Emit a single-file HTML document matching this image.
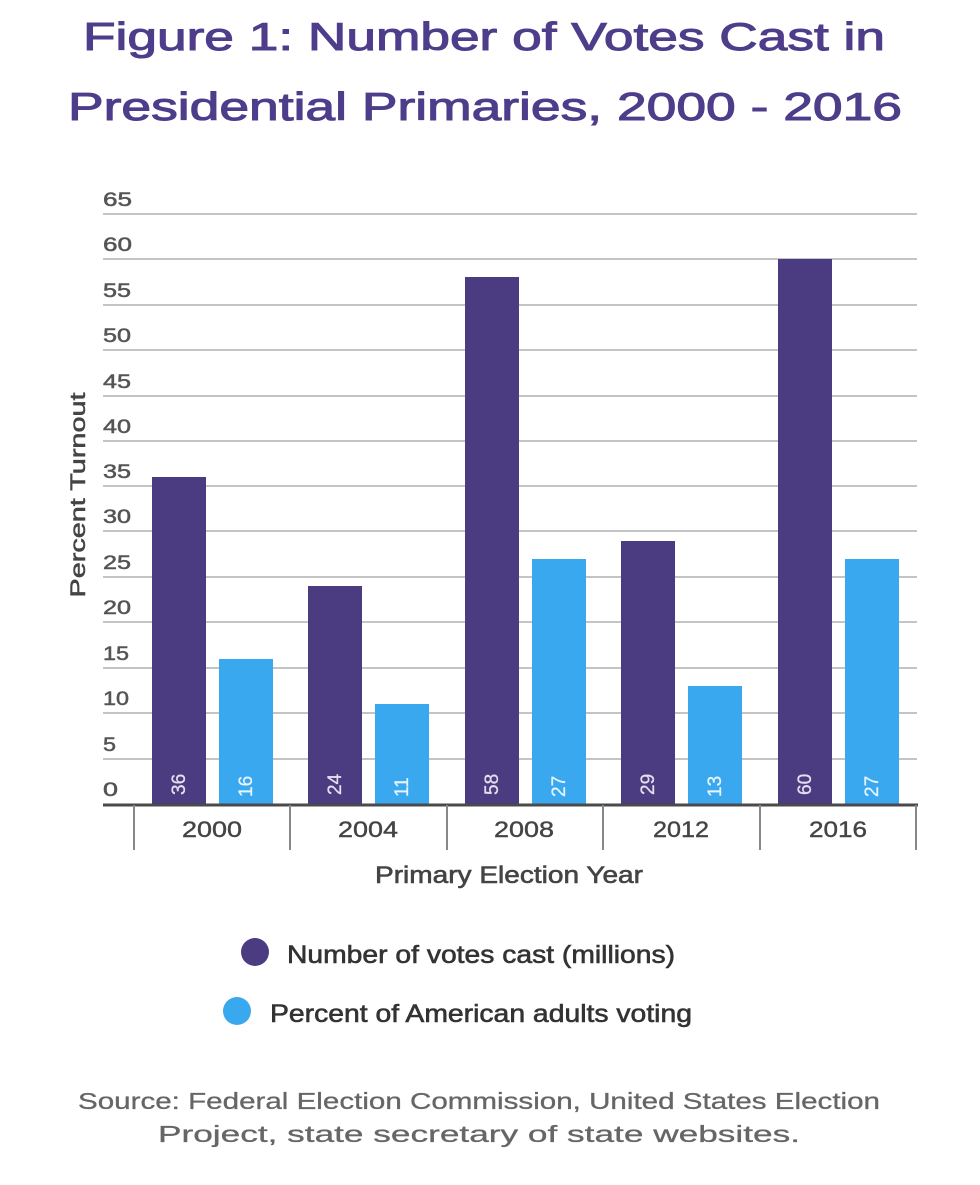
<!DOCTYPE html>
<html><head><meta charset="utf-8"><style>
html,body{margin:0;padding:0;background:#fff;}
svg{display:block;}
text{font-family:"Liberation Sans",Arial,sans-serif;}
</style></head><body>
<svg width="980" height="1185" viewBox="0 0 980 1185" xmlns="http://www.w3.org/2000/svg">
<rect width="980" height="1185" fill="#fff"/>
<!-- Title -->
<text x="484" y="50" font-size="39" fill="#4e3d8a" stroke="#4e3d8a" stroke-width="1" text-anchor="middle" textLength="802" lengthAdjust="spacingAndGlyphs">Figure 1: Number of Votes Cast in</text>
<text x="485" y="120" font-size="39" fill="#4e3d8a" stroke="#4e3d8a" stroke-width="1" text-anchor="middle" textLength="834" lengthAdjust="spacingAndGlyphs">Presidential Primaries, 2000 - 2016</text>

<!-- Gridlines -->
<g stroke="#c4c4c4" stroke-width="2">
<line x1="103" x2="917" y1="759" y2="759"/>
<line x1="103" x2="917" y1="713" y2="713"/>
<line x1="103" x2="917" y1="668" y2="668"/>
<line x1="103" x2="917" y1="622" y2="622"/>
<line x1="103" x2="917" y1="577" y2="577"/>
<line x1="103" x2="917" y1="531" y2="531"/>
<line x1="103" x2="917" y1="486" y2="486"/>
<line x1="103" x2="917" y1="441" y2="441"/>
<line x1="103" x2="917" y1="396" y2="396"/>
<line x1="103" x2="917" y1="350" y2="350"/>
<line x1="103" x2="917" y1="305" y2="305"/>
<line x1="103" x2="917" y1="259" y2="259"/>
<line x1="103" x2="917" y1="214" y2="214"/>
</g>

<!-- Y tick labels -->
<g font-size="19" fill="#555" stroke="#555" stroke-width="0.5">
<text x="103" y="796" textLength="15" lengthAdjust="spacingAndGlyphs">0</text>
<text x="103" y="751" textLength="13" lengthAdjust="spacingAndGlyphs">5</text>
<text x="103" y="705" textLength="26" lengthAdjust="spacingAndGlyphs">10</text>
<text x="103" y="660" textLength="26" lengthAdjust="spacingAndGlyphs">15</text>
<text x="103" y="614" textLength="28" lengthAdjust="spacingAndGlyphs">20</text>
<text x="103" y="569" textLength="28" lengthAdjust="spacingAndGlyphs">25</text>
<text x="103" y="523" textLength="28" lengthAdjust="spacingAndGlyphs">30</text>
<text x="103" y="478" textLength="28" lengthAdjust="spacingAndGlyphs">35</text>
<text x="103" y="433" textLength="28" lengthAdjust="spacingAndGlyphs">40</text>
<text x="103" y="388" textLength="28" lengthAdjust="spacingAndGlyphs">45</text>
<text x="103" y="342" textLength="28" lengthAdjust="spacingAndGlyphs">50</text>
<text x="103" y="297" textLength="28" lengthAdjust="spacingAndGlyphs">55</text>
<text x="103" y="251" textLength="29" lengthAdjust="spacingAndGlyphs">60</text>
<text x="103" y="206" textLength="29" lengthAdjust="spacingAndGlyphs">65</text>
</g>

<!-- Y axis title -->
<text transform="translate(85,495) rotate(-90)" font-size="21" fill="#444" stroke="#444" stroke-width="0.5" text-anchor="middle" textLength="205" lengthAdjust="spacingAndGlyphs">Percent Turnout</text>

<!-- Bars -->
<g fill="#4b3b80">
<rect x="152" y="477" width="54" height="327"/>
<rect x="308" y="586" width="54" height="218"/>
<rect x="465" y="277" width="54" height="527"/>
<rect x="621" y="541" width="54" height="263"/>
<rect x="778" y="259" width="54" height="545"/>
</g>
<g fill="#3aa8ee">
<rect x="219" y="659" width="54" height="145"/>
<rect x="375" y="704" width="54" height="100"/>
<rect x="532" y="559" width="54" height="245"/>
<rect x="688" y="686" width="54" height="118"/>
<rect x="845" y="559" width="54" height="245"/>
</g>

<!-- Bar value labels -->
<g font-size="19" fill="#e4e0ee" stroke="#e4e0ee" stroke-width="0.3">
<text transform="translate(185,795) rotate(-90)">36</text>
<text transform="translate(341,795) rotate(-90)">24</text>
<text transform="translate(498,795) rotate(-90)">58</text>
<text transform="translate(654,795) rotate(-90)">29</text>
<text transform="translate(811,795) rotate(-90)">60</text>
</g>
<g font-size="19" fill="#e6f4fd" stroke="#e6f4fd" stroke-width="0.3">
<text transform="translate(252,797) rotate(-90)">16</text>
<text transform="translate(408,797) rotate(-90)">11</text>
<text transform="translate(565,797) rotate(-90)">27</text>
<text transform="translate(721,797) rotate(-90)">13</text>
<text transform="translate(878,797) rotate(-90)">27</text>
</g>

<!-- X axis -->
<line x1="103" x2="918" y1="805" y2="805" stroke="#4a4a4a" stroke-width="3"/>
<g stroke="#888" stroke-width="2">
<line x1="134" x2="134" y1="805" y2="850"/>
<line x1="290" x2="290" y1="805" y2="850"/>
<line x1="447" x2="447" y1="805" y2="850"/>
<line x1="603" x2="603" y1="805" y2="850"/>
<line x1="760" x2="760" y1="805" y2="850"/>
<line x1="916" x2="916" y1="805" y2="850"/>
</g>
<g font-size="22" fill="#444" stroke="#444" stroke-width="0.4" text-anchor="middle">
<text x="212" y="837" textLength="60" lengthAdjust="spacingAndGlyphs">2000</text>
<text x="368" y="837" textLength="60" lengthAdjust="spacingAndGlyphs">2004</text>
<text x="524" y="837" textLength="60" lengthAdjust="spacingAndGlyphs">2008</text>
<text x="681" y="837" textLength="56" lengthAdjust="spacingAndGlyphs">2012</text>
<text x="838" y="837" textLength="58" lengthAdjust="spacingAndGlyphs">2016</text>
</g>
<text x="509" y="883" font-size="24" fill="#444" stroke="#444" stroke-width="0.6" text-anchor="middle" textLength="268" lengthAdjust="spacingAndGlyphs">Primary Election Year</text>

<!-- Legend -->
<circle cx="255" cy="952" r="14" fill="#4b3b80"/>
<circle cx="237" cy="1011" r="14" fill="#3aa8ee"/>
<text x="287" y="963" font-size="25" fill="#333" stroke="#333" stroke-width="0.6" textLength="388" lengthAdjust="spacingAndGlyphs">Number of votes cast (millions)</text>
<text x="270" y="1022" font-size="25" fill="#333" stroke="#333" stroke-width="0.6" textLength="422" lengthAdjust="spacingAndGlyphs">Percent of American adults voting</text>

<!-- Source -->
<text x="479" y="1109" font-size="23" fill="#666" stroke="#666" stroke-width="0.3" text-anchor="middle" textLength="802" lengthAdjust="spacingAndGlyphs">Source: Federal Election Commission, United States Election</text>
<text x="479" y="1142" font-size="23" fill="#666" stroke="#666" stroke-width="0.3" text-anchor="middle" textLength="642" lengthAdjust="spacingAndGlyphs">Project, state secretary of state websites.</text>
</svg>
</body></html>
